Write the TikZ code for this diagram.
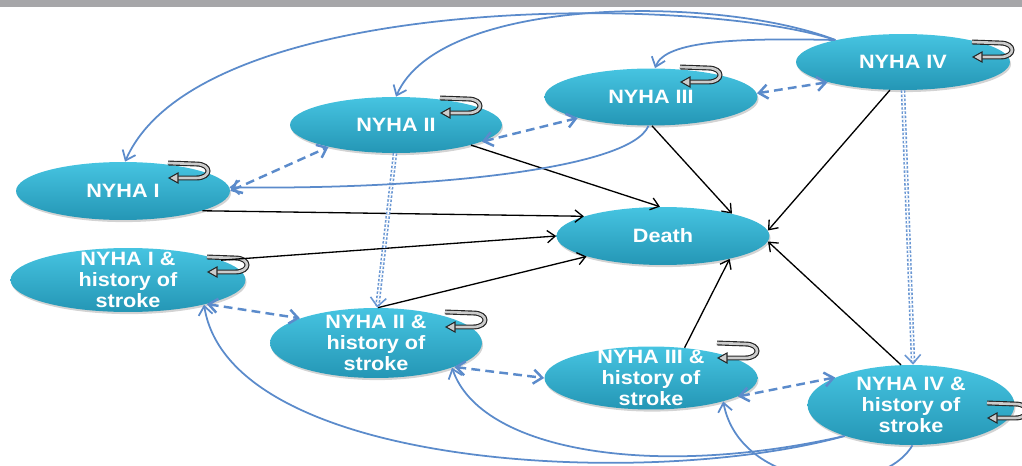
\documentclass[tikz,border=0pt]{standalone}
\usepackage{fontspec}
\newfontfamily\nyhafont{Liberation Sans}[FakeStretch=1.12]
\usetikzlibrary{positioning, shapes, arrows.meta, shadows}

\definecolor{nyhatop}{HTML}{46C4E1}
\definecolor{nyhabot}{HTML}{2496B5}
\definecolor{linkblue}{HTML}{5B8BCB}
\definecolor{dotblue}{HTML}{6A97D3}
\definecolor{bandgray}{HTML}{A6A6A9}

\tikzset{selfloop/.pic={
    \draw[black!85, line width=2.8pt] (0,0) -- (28,1) .. controls (44,1) and (44,15) .. (28,15) -- (9,15);
    \draw[gray!40, line width=1.5pt] (0,0) -- (28,1) .. controls (44,1) and (44,15) .. (28,15) -- (9,15);
    \draw[black!85, fill=gray!40, line width=0.6pt] (1,15) -- (10,10) -- (10,20) -- cycle;
}}

\begin{document}
\begin{tikzpicture}[x=0.02cm, y=-0.02cm,
        nyha/.style={ellipse, draw=none, top color=nyhatop, bottom color=nyhabot, inner sep=0pt,
            drop shadow={shadow xshift=0.6pt, shadow yshift=-1.2pt, opacity=0.35}},
        nyhatext/.style={text=white, font=\nyhafont\bfseries\fontsize{11}{11.8}\selectfont, align=center},
        todeath/.style={black, line width=0.75pt, -{Straight Barb[length=4.5pt,width=7pt]}},
        classmove/.style={linkblue, line width=1.4pt, dash pattern=on 5pt off 3pt,
            {Straight Barb[length=5pt,width=8pt]}-{Straight Barb[length=5pt,width=8pt]}},
        tostroke/.style={dotblue, line width=0.9pt, double=white, double distance=0.8pt,
            dash pattern=on 1.4pt off 1pt, -{Straight Barb[length=5pt,width=9pt]}},
        goback/.style={linkblue, line width=1pt, -{Straight Barb[length=5pt,width=8pt]}}]
        \useasboundingbox (0,0) rectangle (1022,466);
        \clip (0,0) rectangle (1022,466);
        \fill[bandgray] (0,0) rectangle (1022,7);

        % Draw the NYHA classes
        \node[nyha, minimum width=4.28cm, minimum height=1.16cm, label={[nyhatext]center:NYHA I}] (n1) at (123,191) {};
        \node[nyha, minimum width=4.24cm, minimum height=1.12cm, label={[nyhatext]center:NYHA II}] (n2) at (396,125) {};
        \node[nyha, minimum width=4.26cm, minimum height=1.14cm, label={[nyhatext]center:NYHA III}] (n3) at (651,97) {};
        \node[nyha, minimum width=4.28cm, minimum height=1.12cm, label={[nyhatext]center:NYHA IV}] (n4) at (903,62) {};
        \node[nyha, minimum width=4.26cm, minimum height=1.16cm, label={[nyhatext]center:Death}] (death) at (663,236) {};

        % Draw the classes with history of stroke
        \node[nyha, minimum width=4.70cm, minimum height=1.28cm, label={[nyhatext]center:NYHA I \&\\history of\\stroke}] (s1) at (128,280) {};
        \node[nyha, minimum width=4.24cm, minimum height=1.40cm, label={[nyhatext]center:NYHA II \&\\history of\\stroke}] (s2) at (376,343) {};
        \node[nyha, minimum width=4.26cm, minimum height=1.26cm, label={[nyhatext]center:NYHA III \&\\history of\\stroke}] (s3) at (651,378) {};
        \node[nyha, minimum width=4.14cm, minimum height=1.60cm, label={[nyhatext]center:NYHA IV \&\\history of\\stroke}] (s4) at (911,405) {};

        % Draw the self loops
        \pic at ([shift={(45,-28)}]n1.center) {selfloop};
        \pic at ([shift={(44,-27)}]n2.center) {selfloop};
        \pic at ([shift={(29,-30)}]n3.center) {selfloop};
        \pic at ([shift={(69,-20)}]n4.center) {selfloop};
        \pic at ([shift={(79,-23)}]s1.center) {selfloop};
        \pic at ([shift={(69,-31)}]s2.center) {selfloop};
        \pic at ([shift={(66,-35)}]s3.center) {selfloop};
        \pic at ([shift={(76,-2)}]s4.center) {selfloop};

        % Draw edges to death
        \draw[todeath] (n1.-14) -- (death.166);
        \draw[todeath] (s1.12) -- (death.west);
        \draw[todeath] (s2.87) -- (death.-165);
        \draw[todeath] (n2.-15) -- (death.96);
        \draw[todeath] (n3.-88) -- (death.18);
        \draw[todeath] (n4.-115) -- (death.3);
        \draw[todeath] (s4.104) -- (death.-3);
        \draw[todeath] (s3.42) -- (death.-19);

        % Draw moves between neighbouring classes
        \draw[classmove] (n1.east) -- (n2.-162);
        \draw[classmove] (n2.-11) -- (n3.-164);
        \draw[classmove] (n3.2) -- (n4.-165);
        \draw[classmove] (s1.-17) -- (s2.162);
        \draw[classmove] (s2.-17) -- (s3.west);
        \draw[classmove] (s3.-12) -- (s4.160);

        % Draw edges to history of stroke
        \draw[tostroke] (n2.-92) -- (s2.88);
        \draw[tostroke] (n4.south) -- (s4.87);

        % Draw the curved edges back to lower classes
        \draw[goback] (n4.162) .. controls (700,-5) and (200,-10) .. (n1.86);
        \draw[goback] (n4.162) .. controls (720,-5) and (440,-5) .. (n2.90);
        \draw[goback] (n4.162) .. controls (740,38) and (665,40) .. (n3.82);
        \draw[goback] (n3.-95) .. controls (630,170) and (420,190) .. (n1.2);
        \draw[goback] (s4.-155) .. controls (650,490) and (230,470) .. (s1.-18);
        \draw[goback] (s4.-155) .. controls (650,480) and (480,450) .. (s2.-18);
        \draw[goback] (s4.-88) .. controls (880,500) and (740,490) .. (s3.-18);
\end{tikzpicture}
\end{document}
